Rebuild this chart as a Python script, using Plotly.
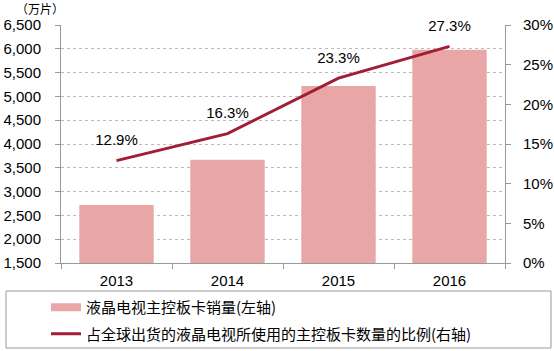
import plotly.graph_objects as go

years = ["2013", "2014", "2015", "2016"]
sales = [2720, 3670, 5220, 5980]
share = [0.129, 0.163, 0.233, 0.273]
share_labels = ["12.9%", "16.3%", "23.3%", "27.3%"]
left_ticks = [1500, 2000, 2500, 3000, 3500, 4000, 4500, 5000, 5500, 6000, 6500]
right_ticks = [0, 0.05, 0.10, 0.15, 0.20, 0.25, 0.30]

bar_name = "液晶电视主控板卡销量(左轴)"
line_name = "占全球出货的液晶电视所使用的主控板卡数量的比例(右轴)"

BAR_COLOR = "#E8A6A6"
LINE_COLOR = "#A01E35"

fig = go.Figure()
fig.add_trace(go.Bar(
    x=years, y=sales, name=bar_name, showlegend=False,
    marker=dict(color=BAR_COLOR, line=dict(width=0)),
    width=0.67,
))
fig.add_trace(go.Scatter(
    x=years, y=share, name=line_name, yaxis="y2", showlegend=False,
    mode="lines+markers+text", text=share_labels, textposition="top center",
    textfont=dict(family="Arial, Liberation Sans", size=15, color="#000000"),
    line=dict(color=LINE_COLOR, width=3),
    marker=dict(size=17, opacity=0),
    cliponaxis=False,
))
# legend-only entries (wide swatches like the reference)
fig.add_trace(go.Scatter(
    x=[None], y=[None], name=bar_name, mode="lines",
    line=dict(color=BAR_COLOR, width=8), legendgroup="a",
))
fig.add_trace(go.Scatter(
    x=[None], y=[None], name=line_name, mode="lines", yaxis="y2",
    line=dict(color=LINE_COLOR, width=3), legendgroup="b",
))

L, R, T, B = 61, 49, 25, 88
W, H = 554, 351
pw, ph = W - L - R, H - T - B

def px_x(v):
    return (v - L) / pw

def px_y(v):
    return (H - B - v) / ph

fig.update_layout(
    width=W, height=H,
    margin=dict(l=L, r=R, t=T, b=B, pad=0, autoexpand=False),
    plot_bgcolor="white", paper_bgcolor="white",
    font=dict(family="Arial, Liberation Sans", size=15, color="#000000"),
    showlegend=True,
    xaxis=dict(
        type="category", showline=True, linecolor="#999999", linewidth=1,
        ticks="outside", tickcolor="#999999", ticklen=5, tickson="boundaries",
        showgrid=False, tickfont=dict(size=15), ticklabelstandoff=4,
        automargin=False,
    ),
    yaxis=dict(
        range=[1500, 6500], tickvals=left_ticks, tickformat=",",
        showline=True, linecolor="#999999", linewidth=1,
        ticks="outside", tickcolor="#999999", ticklen=5,
        showgrid=True, gridcolor="#BBBBBB", griddash="dot", gridwidth=1,
        zeroline=False, tickfont=dict(size=15), ticklabelstandoff=11,
        automargin=False,
    ),
    yaxis2=dict(
        range=[0, 0.30], tickvals=right_ticks, tickformat=".0%",
        overlaying="y", side="right",
        showline=True, linecolor="#999999", linewidth=1,
        ticks="outside", tickcolor="#999999", ticklen=5,
        showgrid=False, zeroline=False, tickfont=dict(size=15),
        ticklabelstandoff=9, automargin=False,
    ),
    legend=dict(
        x=px_x(46), y=px_y(291), xanchor="left", yanchor="top",
        orientation="v", bgcolor="rgba(0,0,0,0)", borderwidth=0,
        font=dict(family="Noto Sans CJK SC", size=15, color="#000000"),
        traceorder="grouped", tracegroupgap=4,
    ),
    shapes=[dict(
        type="rect", xref="paper", yref="paper",
        x0=px_x(6), x1=px_x(551), y0=px_y(348), y1=px_y(291),
        line=dict(color="#999999", width=1), fillcolor="rgba(0,0,0,0)",
    )],
    annotations=[dict(
        text="（万片）", xref="paper", yref="paper",
        x=px_x(14), y=px_y(8), xanchor="left", yanchor="middle",
        showarrow=False,
        font=dict(family="Noto Sans CJK SC", size=12, color="#000000"),
    )],
)

fig.write_html("out.html")
